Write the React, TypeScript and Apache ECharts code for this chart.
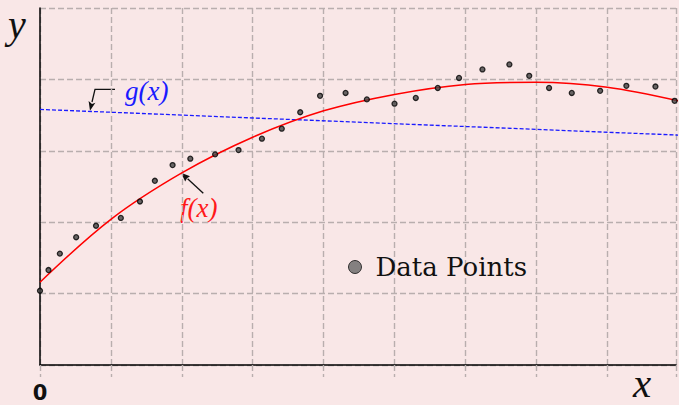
import React, { useEffect, useRef } from "react";
import * as echarts from "echarts";

const pointX = [0, 0.12, 0.28, 0.51, 0.79, 1.14, 1.41, 1.62, 1.87, 2.12, 2.47, 2.8, 3.13, 3.41, 3.67, 3.95, 4.31, 4.61, 5.0, 5.3, 5.61, 5.91, 6.24, 6.62, 6.9, 7.18, 7.5, 7.9, 8.27, 8.68, 8.95];
const pointY = [1.04, 1.33, 1.56, 1.79, 1.95, 2.06, 2.29, 2.58, 2.8, 2.89, 2.95, 3.01, 3.17, 3.31, 3.54, 3.77, 3.81, 3.72, 3.66, 3.74, 3.88, 4.02, 4.14, 4.21, 4.05, 3.88, 3.81, 3.84, 3.91, 3.9, 3.7];

const fX = [0, 1, 2, 3, 4, 5, 6, 7, 8, 9];
const fY = [1.16, 2.04, 2.69, 3.19, 3.56, 3.79, 3.93, 3.96, 3.89, 3.7];

const gX = [0, 9];
const gY = [3.58, 3.22];

const BG = "#f9e7e7";
const GRID = "#b9aeae";
const MATH = "Liberation Serif";

export default function App() {
  const ref = useRef<HTMLDivElement>(null);
  useEffect(() => {
    if (!ref.current) return;
    const chart = echarts.init(ref.current, null, { renderer: "svg" });
    const dash = { color: GRID, width: 1.4, type: [6, 3] as any };
    chart.setOption({
      animation: false,
      backgroundColor: BG,
      grid: { left: 40, top: 8, right: 0, bottom: 40 },
      xAxis: {
        type: "value",
        min: 0,
        max: 8.97,
        interval: 1,
        axisLine: { show: true, onZero: false, lineStyle: { color: "#000", width: 1.5 } },
        axisTick: { show: true, length: 12, lineStyle: dash },
        splitLine: { show: true, lineStyle: dash },
        axisLabel: {
          formatter: (v: number) => (v === 0 ? "0" : ""),
          margin: 17,
          fontSize: 21,
          fontWeight: "bold",
          fontFamily: "DejaVu Sans",
          color: "#111",
        },
      },
      yAxis: {
        type: "value",
        min: 0,
        max: 5,
        interval: 1,
        axisLine: { show: true, onZero: false, lineStyle: { color: "#000", width: 1.5 } },
        axisTick: { show: false },
        splitLine: { show: true, lineStyle: dash },
        axisLabel: { show: false },
      },
      legend: {
        data: [
          {
            name: "Data Points",
            icon: "circle",
            itemStyle: { color: "#666", borderColor: "#111", borderWidth: 1 },
          },
        ],
        left: 343,
        top: 249,
        itemWidth: 13,
        itemHeight: 13,
        itemGap: 0,
        textStyle: {
          fontFamily: "DejaVu Serif",
          fontSize: 26,
          color: "#111",
          padding: [0, 0, 0, 9],
        },
      },
      series: [
        {
          name: "g",
          type: "line",
          data: gX.map((x, i) => [x, gY[i]]),
          showSymbol: false,
          clip: true,
          lineStyle: { color: "#1a1aff", width: 1.3, type: [4, 2] },
          z: 2,
        },
        {
          name: "f",
          type: "line",
          data: fX.map((x, i) => [x, fY[i]]),
          showSymbol: false,
          clip: true,
          smooth: 0.35,
          lineStyle: { color: "#ff0000", width: 1.5 },
          z: 3,
        },
        {
          name: "Data Points",
          type: "scatter",
          data: pointX.map((x, i) => [x, pointY[i]]),
          symbol: "circle",
          symbolSize: 5,
          itemStyle: { color: "#444", borderColor: "#000", borderWidth: 1.3 },
          z: 4,
        },
      ],
      graphic: [
        { type: "text", left: 8, top: 4, style: { text: "y", font: `italic 40px "${MATH}"`, fill: "#111" } },
        { type: "text", left: 633, top: 362, style: { text: "x", font: `italic 41px "${MATH}"`, fill: "#111" } },
        { type: "text", left: 125, top: 77, style: { text: "g(x)", font: `italic 27px "${MATH}"`, fill: "#1a1aff" } },
        { type: "text", left: 180, top: 194, style: { text: "f(x)", font: `italic 27px "${MATH}"`, fill: "#ff1a1a" } },
        {
          type: "polyline",
          shape: { points: [[115, 89.3], [95, 89.3], [92, 102]] },
          style: { stroke: "#111", lineWidth: 1.3, fill: null },
        },
        {
          type: "polygon",
          shape: { points: [[90, 110.7], [95.4, 102.7], [92, 104], [88.6, 101.1]] },
          style: { fill: "#111" },
        },
        {
          type: "line",
          shape: { x1: 203.3, y1: 193.3, x2: 187.6, y2: 178.8 },
          style: { stroke: "#111", lineWidth: 1.3 },
        },
        {
          type: "polygon",
          shape: { points: [[181, 172.7], [190, 176.2], [187, 178.3], [185.2, 181.4]] },
          style: { fill: "#111" },
        },
      ],
    });
    return () => chart.dispose();
  }, []);
  return (
    <div
      ref={ref}
      style={{ position: "fixed", left: 0, top: 0, width: 679, height: 405 }}
    />
  );
}
